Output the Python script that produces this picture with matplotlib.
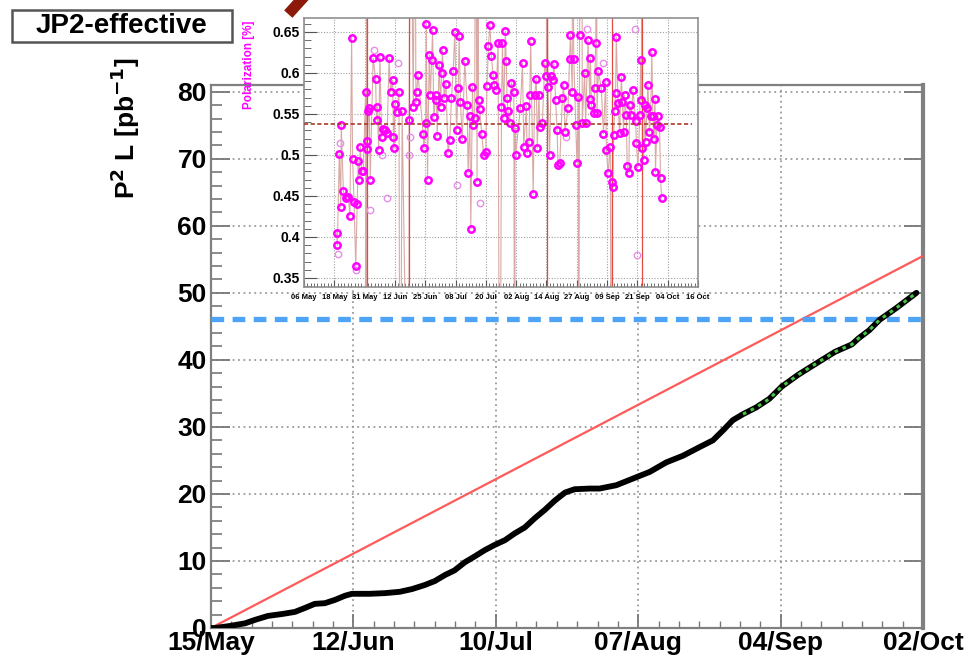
import matplotlib
matplotlib.use("Agg")
import matplotlib.pyplot as plt
from matplotlib.patches import Rectangle
from matplotlib.ticker import MultipleLocator, FixedLocator, AutoMinorLocator
import numpy as np

plt.rcParams['font.family'] = ['Liberation Sans', 'DejaVu Sans']
plt.rcParams['font.weight'] = 'bold'
plt.rcParams['mathtext.default'] = 'bf'

# ---- cumulative figure of merit (days since 15 May) ----
lumi_day = [0, 0.8, 3.7, 6.7, 8.6, 11.2, 14.1, 16.5, 18.5, 20.4, 22.4, 24.4,
            26.3, 27.7, 31.2, 34.2, 37.1, 39.5, 42.0, 44.0, 46.0, 47.9, 49.9,
            51.9, 53.8, 55.8, 57.8, 59.7, 61.7, 63.7, 65.6, 67.6, 69.6, 71.5,
            74.5, 76.4, 79.7, 83.0, 86.3, 89.5, 92.8, 96.1, 98.7, 100.7,
            102.6, 104.6, 107.2, 109.8, 112.2, 115.5, 119.5, 122.7, 126.0,
            127.3, 129.4, 131.5, 134.7, 138.7]
lumi_val = [0, 0, 0.3, 0.7, 1.2, 1.8, 2.1, 2.4, 3.0, 3.6, 3.7, 4.2,
            4.8, 5.1, 5.1, 5.2, 5.4, 5.8, 6.4, 7.0, 7.9, 8.6, 9.8,
            10.7, 11.6, 12.4, 13.1, 14.1, 15.0, 16.4, 17.6, 19.0, 20.2, 20.7,
            20.8, 20.8, 21.3, 22.3, 23.3, 24.7, 25.7, 27.0, 28.0, 29.5,
            31.0, 31.9, 32.9, 34.2, 36.0, 37.8, 39.7, 41.2, 42.3,
            43.2, 44.4, 46.0, 47.7, 50.0]
recent_from_day = 104.6
goal_day = [0, 140]
goal_val = [0, 55.5]
target_val = 46.1

main_ticks = [0, 28, 56, 84, 112, 140]
main_labels = ["15/May", "12/Jun", "10/Jul", "07/Aug", "04/Sep", "02/Oct"]

# ---- polarization by run (days since 06 May) ----
pol_day = [13.5, 13.8, 14.6, 15.2, 15.4, 16.3, 17.2, 18.3, 19.0, 19.7, 20.1,
           20.7, 21.4, 22.0, 22.4, 22.7, 23.3, 23.8, 24.5, 25.5, 25.9, 26.2,
           26.6, 27.0, 27.4, 28.6, 29.6, 30.0, 30.3, 30.9, 31.4, 32.1, 32.5,
           33.5, 34.4, 35.2, 35.8, 36.7, 37.0, 37.2, 37.6, 38.3, 39.3, 40.6,
           43.5, 45.2, 46.3, 46.6, 47.2, 49.3, 49.6, 50.4, 50.6, 51.1, 51.8,
           52.3, 52.8, 53.2, 53.7, 54.5, 54.8, 55.1, 55.9, 56.5, 56.9, 57.3,
           58.0, 58.7, 59.6, 60.3, 61.0, 61.7, 62.4, 63.1, 63.8, 64.2, 64.7,
           65.5, 66.5, 67.5, 67.9, 68.6, 69.0, 69.7, 70.0, 70.6, 71.6, 72.2,
           72.7, 73.5, 74.3, 75.2, 75.7, 76.3, 76.9, 77.5, 78.2, 78.8, 79.6,
           80.3, 81.7, 82.1, 82.6, 83.3, 83.7, 84.0, 84.4, 85.1, 85.8, 86.8,
           87.3, 87.6, 89.5, 90.4, 90.9, 92.0, 92.3, 93.1, 93.4, 93.8, 94.8,
           95.4, 96.1, 96.5, 97.2, 97.5, 98.6, 99.6, 100.3, 100.9, 101.6,
           102.3, 103.0, 103.4, 104.1, 104.7, 105.1, 105.8, 106.9, 107.4,
           108.0, 109.2, 109.9, 110.2, 111.0, 111.6, 112.4, 112.9, 113.5,
           114.0, 115.1, 116.1, 116.5, 117.5, 118.2, 118.5, 118.9, 119.8,
           120.2, 120.7, 121.2, 121.8, 123.0, 123.9, 124.8, 125.1, 125.8,
           126.7, 127.5, 127.8, 128.1, 128.5, 128.9, 129.2, 129.9, 130.6,
           131.3, 131.7, 132.2, 132.6, 133.3, 133.7, 134.4, 134.7, 135.4,
           136.1, 137.2, 137.5, 138.2, 138.9, 139.3, 139.6, 140.0, 140.5,
           140.9, 141.3, 141.9, 142.3, 142.9, 143.4, 143.9, 144.3, 144.7,
           145.2, 145.4, 146.0, 146.5, 147.1, 147.5, 147.9]
pol_val = [.405, .390, .501, .436, .536, .456, .447, .449, .426, .643, .495,
           .442, .364, .440, .493, .470, .510, .480, .480, .577, .517, .507,
           .553, .557, .470, .618, .593, .543, .559, .506, .620, .522, .531,
           .530, .527, .618, .577, .591, .522, .508, .562, .552, .577, .553,
           .543, .559, .564, .577, .597, .526, .508, .539, .660, .470, .622,
           .573, .616, .652, .546, .573, .567, .523, .610, .559, .600, .628,
           .569, .587, .502, .518, .569, .602, .650, .530, .581, .645, .565,
           .519, .615, .561, .478, .547, .410, .583, .537, .545, .467, .567,
           .556, .526, .500, .504, .584, .633, .659, .621, .598, .585, .579,
           .637, .559, .636, .545, .651, .614, .569, .553, .539, .588, .577,
           .533, .500, .557, .612, .510, .560, .502, .516, .573, .639, .452,
           .573, .593, .508, .573, .534, .539, .612, .596, .583, .500,
           .596, .591, .611, .567, .530, .488, .490, .569, .585,
           .528, .557, .617, .646, .577, .617, .537, .490, .571,
           .646, .539, .600, .539, .640, .568, .618, .561, .551,
           .581, .636, .551, .602, .581, .526, .589, .506, .478,
           .510, .467, .461, .524, .554, .576, .644, .563, .527,
           .595, .565, .528, .573, .549, .487, .478, .561, .549,
           .579, .541, .514, .485, .549, .616, .567, .508, .494,
           .561, .516, .557, .585, .528, .547, .626, .548, .520,
           .568, .479, .537, .548, .534, .472, .448]
# second fill measurement, drawn paler
pol2_day = [13.9, 14.9, 21.4, 27.5, 28.9, 32.1, 34.4, 39.0, 43.5, 43.8, 63.3,
            72.7, 108.5, 117.1, 123.7, 136.8, 137.8]
pol2_val = [.379, .515, .360, .433, .628, .500, .447, .612, .500, .522, .463,
            .441, .522, .653, .612, .654, .378]
# runs with failed / unphysical polarization values
bad_day = [25.6, 26.0, 39.7, 43.4, 44.0, 45.9, 71.0, 72.0, 81.0, 87.2, 100.4,
           111.0, 113.6, 115.0, 121.0, 127.3, 139.7]
bad_val = [0.0, 0.9, 0.0, 0.0, 0.9, 0.9, 0.9, 0.9, 0.0, 0.0, 0.9,
           0.9, 0.0, 0.9, 0.9, 0.0, 0.9]
bad_red = [26.0, 43.4, 100.4, 127.3, 139.7]
pol_mean = 0.538

inset_labels = ["06 May", "18 May", "31 May", "12 Jun", "25 Jun", "08 Jul",
                "20 Jul", "02 Aug", "14 Aug", "27 Aug", "09 Sep", "21 Sep",
                "04 Oct", "16 Oct"]
inset_span = 163.0

fig = plt.figure(figsize=(9.75, 6.6), dpi=100)

# ---------------- main panel ----------------
ax = fig.add_axes([0.2164, 0.0485, 0.7303, 0.8227])
ax.set_xlim(0, 140)
ax.set_ylim(0, 81)

ax.plot(goal_day, goal_val, color='#ff5a5a', lw=1.6, zorder=3)
ax.axhline(target_val, color='#4da3f5', lw=3.8, dashes=(2.4, 1.6), zorder=3)
ax.plot(lumi_day, lumi_val, color='black', lw=4.2, solid_capstyle='round',
        solid_joinstyle='round', zorder=4)
rd = [d for d in lumi_day if d >= recent_from_day]
rv = [v for d, v in zip(lumi_day, lumi_val) if d >= recent_from_day]
ax.plot(rd, rv, color='#44c544', lw=2.2, ls=(0, (1.2, 1.6)), zorder=5)

ax.set_xticks(main_ticks)
ax.set_xticklabels(main_labels)
ax.xaxis.set_minor_locator(MultipleLocator(4))
ax.yaxis.set_major_locator(MultipleLocator(10))
ax.yaxis.set_minor_locator(MultipleLocator(2))
ax.tick_params(axis='both', which='major', direction='in', labelsize=19,
               color='#777777', width=1.3)
ax.tick_params(axis='y', which='major', length=14, pad=3, right=True)
ax.tick_params(axis='y', which='minor', direction='in', length=8,
               color='#777777', width=1.2)
ax.tick_params(axis='x', which='major', length=10, pad=2)
ax.tick_params(axis='x', which='minor', direction='in', length=5,
               color='#777777', width=1.0)
ax.grid(True, which='major', color='#9a9a9a', ls=(0, (1, 2)), lw=1.3)
for side, s in ax.spines.items():
    s.set_color('#808080')
    s.set_linewidth(1.6)
ax.spines['right'].set_linewidth(3)
ax.set_ylabel(r"P$^{2}$ L [pb$^{-1}$]", fontsize=19, fontweight='bold')
ax.yaxis.set_label_coords(-0.097, 0.92)

# label box
fig.patches.append(Rectangle((12 / 975, 1 - 42 / 660), 220 / 975, 32 / 660,
                             transform=fig.transFigure, fill=False,
                             edgecolor='#555555', lw=1.8))
fig.text(122 / 975, 1 - 26 / 660, "JP2-effective", ha='center', va='center',
         fontsize=20, fontweight='bold')
# stray marker stub at the top edge
fig.add_artist(plt.Line2D([292 / 975, 304 / 975], [1 - 10 / 660, 1.005],
                          transform=fig.transFigure, color='#8b1a0a', lw=8))

# ---------------- inset: polarization ----------------
ins = fig.add_axes([0.3118, 0.5652, 0.4041, 0.4076])
ins.set_facecolor('white')
ins.set_xlim(0, inset_span)
ins.set_ylim(0.339, 0.667)

all_day = np.array(pol_day + bad_day)
all_val = np.array(pol_val + bad_val)
order = np.argsort(all_day)
ins.plot(all_day[order], all_val[order], color='#d9aaa5', lw=0.8, zorder=2)
for d, v in zip(bad_day, bad_val):
    if d in bad_red:
        ins.plot([d, d], [0.3, 0.7], color='#e04a40', lw=0.9, zorder=2)
ins.plot(pol2_day, pol2_val, ls='none', marker='o', ms=4.6, mfc='none',
         mec='#e58fe5', mew=1.0, zorder=3)
ins.plot(pol_day, pol_val, ls='none', marker='o', ms=4.6, mfc='none',
         mec='#ff00ff', mew=1.8, zorder=4)
ins.axhline(pol_mean, xmax=0.985, color='#a83a2a', lw=1.2, ls=(0, (2.5, 1.5)),
            zorder=5)

itick = [i * inset_span / 13 for i in range(14)]
ins.xaxis.set_major_locator(FixedLocator(itick))
ins.set_xticklabels(inset_labels)
ins.xaxis.set_minor_locator(AutoMinorLocator(9))
ins.yaxis.set_major_locator(MultipleLocator(0.05))
ins.yaxis.set_minor_locator(MultipleLocator(0.01))
ins.yaxis.set_major_formatter(plt.FuncFormatter(lambda v, p: f"{v:g}"))
ins.tick_params(axis='y', which='major', direction='in', length=9,
                labelsize=10, color='#555555', pad=3)
ins.tick_params(axis='y', which='minor', direction='in', length=5,
                color='#555555')
ins.tick_params(axis='x', which='major', direction='in', length=5,
                labelsize=5.5, color='#555555', pad=5)
ins.tick_params(axis='x', which='minor', direction='in', length=3,
                color='#555555')
ins.grid(True, which='major', color='#a0a0a0', ls=(0, (1, 1.5)), lw=0.8)
for s in ins.spines.values():
    s.set_color('#909090')
    s.set_linewidth(1.2)
ins.set_ylabel("Polarization [%]", color='#ff00ff', fontsize=8.5,
               fontweight='bold')
ins.yaxis.set_label_coords(-0.125, 0.825)

fig.savefig("out.png", dpi=100)
